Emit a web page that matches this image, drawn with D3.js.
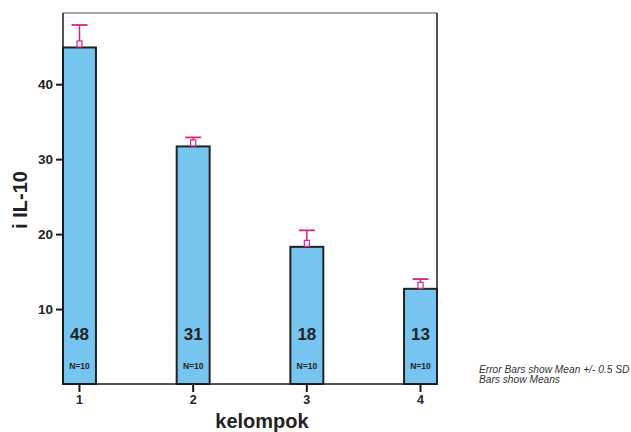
<!DOCTYPE html>
<html>
<head>
<meta charset="utf-8">
<script src="https://cdn.jsdelivr.net/npm/d3@7"></script>
<style>
  body { margin: 0; background: #fff; }
  text { font-family: "Liberation Sans", Arial, sans-serif; }
</style>
</head>
<body>
<svg id="chart" width="631" height="432"></svg>
<script>
// chart values
const groups = ['1', '2', '3', '4'];
const means = [44.9, 31.7, 18.3, 12.7];
const upper = [47.9, 32.9, 20.5, 14.0];   // mean + 0.5 SD
const barLabels = ['48', '31', '18', '13'];
const nLabels = ['N=10', 'N=10', 'N=10', 'N=10'];
const yTicks = [10, 20, 30, 40];
const notes = ['Error Bars show Mean +/- 0.5 SD', 'Bars show Means'];

const svg = d3.select('#chart');
const plotL = 63, plotR = 437, plotT = 13, plotB = 384;

const x = d3.scaleBand()
  .domain(groups)
  .range([plotL, plotR])
  .paddingInner(0.71)
  .paddingOuter(0);

const y = d3.scaleLinear()
  .domain([0, 49.5])
  .range([plotB, plotT]);

const data = groups.map((g, i) => ({ g, mean: means[i], up: upper[i], label: barLabels[i], n: nLabels[i] }));

// frame: top gray, right dark
svg.append('line')
  .attr('x1', plotL).attr('x2', plotR).attr('y1', plotT).attr('y2', plotT)
  .attr('stroke', '#8a8a8a').attr('stroke-width', 1.5);
svg.append('line')
  .attr('x1', plotR).attr('x2', plotR).attr('y1', plotT).attr('y2', plotB)
  .attr('stroke', '#1a1a1a').attr('stroke-width', 1.5);

// bars
svg.selectAll('rect.bar')
  .data(data)
  .enter()
  .append('rect')
  .attr('class', 'bar')
  .attr('x', d => x(d.g))
  .attr('y', d => y(d.mean))
  .attr('width', x.bandwidth())
  .attr('height', d => plotB - y(d.mean))
  .attr('fill', '#76c5f0')
  .attr('stroke', '#222')
  .attr('stroke-width', 2);

// error bars
const pink = '#e0207f';
const eb = svg.selectAll('g.err').data(data).enter().append('g').attr('class', 'err');
eb.append('line')
  .attr('x1', d => x(d.g) + x.bandwidth() / 2)
  .attr('x2', d => x(d.g) + x.bandwidth() / 2)
  .attr('y1', d => y(d.mean) - 6)
  .attr('y2', d => y(d.up))
  .attr('stroke', pink).attr('stroke-width', 1.5);
eb.append('line')
  .attr('x1', d => x(d.g) + x.bandwidth() / 2 - 8)
  .attr('x2', d => x(d.g) + x.bandwidth() / 2 + 8)
  .attr('y1', d => y(d.up))
  .attr('y2', d => y(d.up))
  .attr('stroke', pink).attr('stroke-width', 1.8);
eb.append('rect')
  .attr('x', d => x(d.g) + x.bandwidth() / 2 - 2.5)
  .attr('y', d => y(d.mean) - 6.5)
  .attr('width', 5)
  .attr('height', 6)
  .attr('fill', '#fff')
  .attr('stroke', pink).attr('stroke-width', 1.2);

// bar texts
svg.selectAll('text.val')
  .data(data)
  .enter()
  .append('text')
  .attr('class', 'val')
  .attr('x', d => x(d.g) + x.bandwidth() / 2)
  .attr('y', 340)
  .attr('text-anchor', 'middle')
  .attr('font-weight', 'bold')
  .attr('font-size', 17)
  .attr('fill', '#222')
  .text(d => d.label);

svg.selectAll('text.n')
  .data(data)
  .enter()
  .append('text')
  .attr('class', 'n')
  .attr('x', d => x(d.g) + x.bandwidth() / 2)
  .attr('y', 369)
  .attr('text-anchor', 'middle')
  .attr('font-weight', 'bold')
  .attr('font-size', 8.5)
  .attr('fill', '#222')
  .text(d => d.n);

// y axis
const yAxis = svg.append('g')
  .attr('transform', `translate(${plotL},0)`)
  .call(d3.axisLeft(y).tickValues(yTicks).tickSize(7).tickPadding(3));
yAxis.select('.domain').attr('stroke', '#1a1a1a').attr('stroke-width', 1.5)
  .attr('d', `M0,${plotB}V${plotT}`);
yAxis.selectAll('.tick line').attr('stroke', '#1a1a1a').attr('stroke-width', 2);
yAxis.selectAll('.tick text')
  .attr('font-size', 13.5).attr('font-weight', 'bold').attr('fill', '#222')
  .style('font-family', '"Liberation Sans", Arial, sans-serif');

// x axis
const xAxis = svg.append('g')
  .attr('transform', `translate(0,${plotB})`)
  .call(d3.axisBottom(x).tickSize(8).tickPadding(3));
xAxis.select('.domain').attr('stroke', '#1a1a1a').attr('stroke-width', 1.5)
  .attr('d', `M${plotL},0H${plotR}`);
xAxis.selectAll('.tick line').attr('stroke', '#1a1a1a').attr('stroke-width', 2);
xAxis.selectAll('.tick text')
  .attr('font-size', 12.5).attr('font-weight', 'bold').attr('fill', '#222')
  .style('font-family', '"Liberation Sans", Arial, sans-serif');

// axis titles
svg.append('text')
  .attr('x', 262).attr('y', 428)
  .attr('text-anchor', 'middle')
  .attr('font-size', 20).attr('font-weight', 'bold').attr('fill', '#222')
  .text('kelompok');

svg.append('text')
  .attr('transform', 'translate(27,200) rotate(-90)')
  .attr('text-anchor', 'middle')
  .attr('font-size', 20).attr('font-weight', 'bold').attr('fill', '#222')
  .text('i IL-10');

// footnote
svg.selectAll('text.note')
  .data(notes)
  .enter()
  .append('text')
  .attr('class', 'note')
  .attr('x', 479)
  .attr('y', (d, i) => 373 + i * 10)
  .attr('font-size', 10.2)
  .attr('font-style', 'italic')
  .attr('fill', '#333')
  .text(d => d);
</script>
</body>
</html>
